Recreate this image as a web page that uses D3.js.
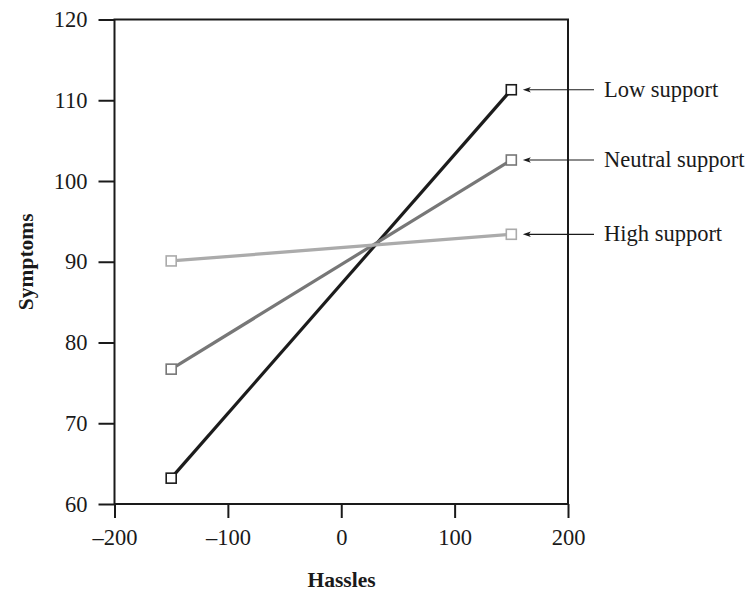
<!DOCTYPE html>
<html><head><meta charset="utf-8">
<script src="https://cdn.jsdelivr.net/npm/d3@7/dist/d3.min.js"></script>
<style>body{margin:0;background:#fff;} svg{display:block;}</style>
</head><body>
<svg id="c" width="751" height="593"></svg>
<script>
const hassles = [-150, 150];
const seriesNames = ["Low support", "Neutral support", "High support"];
const lowSupport = [63.2, 111.3];
const neutralSupport = [76.7, 102.6];
const highSupport = [90.1, 93.4];
const xTicks = [-200, -100, 0, 100, 200];
const yTicks = [60, 70, 80, 90, 100, 110, 120];
const colors = ["#1c1c1c", "#777777", "#ababab"];

const svg = d3.select("#c");
const font = "'Liberation Serif', 'Times New Roman', serif";
const L = 114.5, R = 568, T = 19.5, B = 504;
const x = d3.scaleLinear().domain([-200, 200]).range([L, R]);
const y = d3.scaleLinear().domain([60, 120]).range([B, T]);
const fmt = v => (v < 0 ? "\u2013" + Math.abs(v) : String(v));
const FS = 22.5;

// box
svg.append("rect").attr("x", L).attr("y", T).attr("width", R - L).attr("height", B - T)
  .attr("fill", "none").attr("stroke", "#1a1a1a").attr("stroke-width", 2);

const yAxis = svg.append("g").attr("transform", `translate(${L},0)`)
  .call(d3.axisLeft(y).tickValues(yTicks).tickSize(16).tickPadding(11).tickFormat(fmt));
const xAxis = svg.append("g").attr("transform", `translate(0,${B})`)
  .call(d3.axisBottom(x).tickValues(xTicks).tickSize(14).tickPadding(11).tickFormat(fmt));
[yAxis, xAxis].forEach(g => {
  g.select(".domain").remove();
  g.selectAll("line").attr("stroke", "#1a1a1a").attr("stroke-width", 2);
  g.selectAll("text").attr("font-family", font).attr("font-size", FS).attr("fill", "#1a1a1a");
});

const data = [lowSupport, neutralSupport, highSupport];
const line = d3.line().x((d, i) => x(hassles[i])).y(d => y(d));
data.forEach((vals, k) => {
  svg.append("path").datum(vals).attr("d", line).attr("fill", "none")
    .attr("stroke", colors[k]).attr("stroke-width", 3.2);
});
data.forEach((vals, k) => {
  svg.selectAll(null).data(vals).enter().append("rect")
    .attr("x", (d, i) => x(hassles[i]) - 5).attr("y", d => y(d) - 5)
    .attr("width", 10).attr("height", 10)
    .attr("fill", "#fff").attr("stroke", colors[k]).attr("stroke-width", 1.6);
});

// arrows + labels
data.forEach((vals, k) => {
  const yy = y(vals[1]);
  const x0 = x(hassles[1]) + 11.5;
  svg.append("line").attr("x1", x0 + 4).attr("x2", 594)
    .attr("y1", yy).attr("y2", yy).attr("stroke", "#1a1a1a").attr("stroke-width", 1.2);
  svg.append("path").attr("d", `M${x0},${yy} L${x0 + 8},${yy - 2.8} L${x0 + 6},${yy} L${x0 + 8},${yy + 2.8} Z`)
    .attr("fill", "#1a1a1a");
  svg.append("text").attr("x", 604).attr("y", yy).attr("dy", "0.32em")
    .attr("font-family", font).attr("font-size", FS).attr("fill", "#1a1a1a")
    .text(seriesNames[k]);
});

svg.append("text").attr("x", 341.5).attr("y", 587).attr("text-anchor", "middle")
  .attr("font-family", font).attr("font-size", 21.5).attr("font-weight", "bold").attr("fill", "#1a1a1a")
  .text("Hassles");
svg.append("text").attr("transform", `translate(33,${(T + B) / 2}) rotate(-90)`)
  .attr("text-anchor", "middle")
  .attr("font-family", font).attr("font-size", 21.5).attr("font-weight", "bold").attr("fill", "#1a1a1a")
  .text("Symptoms");
</script>
</body></html>
